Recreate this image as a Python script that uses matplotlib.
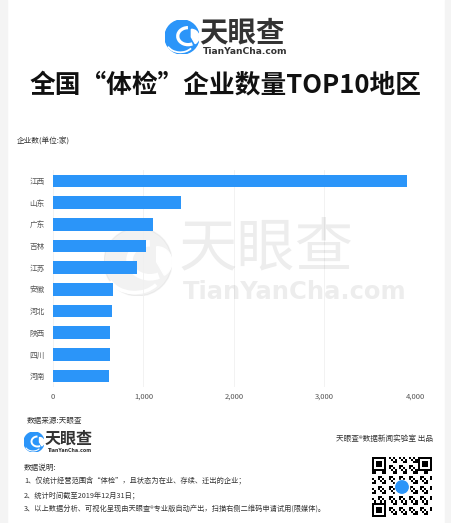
import numpy as np
import matplotlib
matplotlib.use("Agg")
import matplotlib.pyplot as plt
from matplotlib.patches import Circle, Rectangle, Arc, Wedge

plt.rcParams['font.family'] = ['Noto Sans CJK SC', 'DejaVu Sans']

regions = ['江西', '山东', '广东', '吉林', '江苏', '安徽', '河北', '陕西', '四川', '河南']
counts = [3914, 1413, 1107, 1033, 927, 666, 651, 629, 627, 621]
xticks = [0, 1000, 2000, 3000, 4000]
xtick_labels = ['0', '1,000', '2,000', '3,000', '4,000']

W, H = 452, 523
fig = plt.figure(figsize=(W / 100, H / 100), dpi=100)
fig.patch.set_facecolor('white')

def fx(x):
    return x / W

def fy(y):
    return 1 - y / H

# light side borders
fig.add_artist(Rectangle((0, 0), fx(7), 1, transform=fig.transFigure, color='#f4f4f4', zorder=0))
fig.add_artist(Rectangle((fx(445), 0), fx(7), 1, transform=fig.transFigure, color='#f4f4f4', zorder=0))

BLUE = '#2b95f9'

def draw_logo(ax_rect, alpha=1.0, color=BLUE):
    ax = fig.add_axes(ax_rect)
    ax.set_xlim(-1, 1)
    ax.set_ylim(-1, 1)
    ax.set_aspect('equal')
    ax.axis('off')
    ax.add_patch(Circle((0, 0), 1, color=color, alpha=alpha))
    ax.add_patch(Arc((0.35, 0.05), 1.2, 1.0, theta1=90, theta2=300, color='white', lw=2.2 * (ax_rect[2] / 0.07), alpha=1))
    ax.add_patch(Wedge((0.55, 0.0), 0.45, -60, 90, color='white'))
    ax.add_patch(Arc((-0.1, -0.3), 1.6, 1.2, theta1=200, theta2=330, color='white', lw=1.2 * (ax_rect[2] / 0.07)))
    return ax

# header logo
draw_logo([fx(165), fy(54), fx(34), 34 / H])
fig.text(fx(199), fy(33), '天眼查', fontsize=20.5, weight='bold', color='#333333', ha='left', va='center')
fig.text(fx(203), fy(51), 'TianYanCha.com', fontsize=6.6, weight='bold', color='#333333', ha='left', va='center',
         family=['DejaVu Sans'])

# title
fig.text(0.5, fy(85), '全国“体检”企业数量TOP10地区', fontsize=18.5, weight='bold', color='#111111',
         ha='center', va='center')

fig.text(fx(17), fy(142), '企业数(单位:家)', fontsize=5.5, color='#333333', ha='left', va='center')

# watermark
draw_logo([fx(104), fy(296), fx(68), 68 / H], alpha=0.12, color='#999999')
fig.text(fx(179), fy(249), '天眼查', fontsize=42, color='#000000', alpha=0.07, ha='left', va='center')
fig.text(fx(183), fy(292), 'TianYanCha.com', fontsize=17.5, color='#000000', alpha=0.07, ha='left', va='center',
         family=['DejaVu Sans'], weight='bold')

# main chart
ax = fig.add_axes([fx(53), fy(387), fx(415 - 53), 217 / H])
ax.set_facecolor('none')
y = np.arange(len(regions))
ax.barh(y, counts, height=0.58, color=BLUE, zorder=2)
ax.set_ylim(len(regions) - 0.5, -0.5)
ax.set_xlim(0, 4000)
ax.set_yticks(y)
ax.set_yticklabels(regions, fontsize=5.5, color='#555555')
ax.set_xticks(xticks)
ax.set_xticklabels(xtick_labels, fontsize=5.5, color='#555555')
ax.tick_params(length=0, pad=4)
ax.tick_params(axis='y', pad=6)
for s in ax.spines.values():
    s.set_visible(False)
ax.grid(axis='x', color='#f0f0f0', lw=0.6, zorder=0)

# footer
fig.text(fx(27), fy(421), '数据来源:天眼查', fontsize=5.5, color='#333333', ha='left', va='center')
draw_logo([fx(24), fy(452), fx(20), 20 / H])
fig.text(fx(45), fy(439), '天眼查', fontsize=11.5, weight='bold', color='#333333', ha='left', va='center')
fig.text(fx(47), fy(450), 'TianYanCha.com', fontsize=3.4, weight='bold', color='#333333', ha='left', va='center',
         family=['DejaVu Sans'])
fig.text(fx(433), fy(439), '天眼查®数据新闻实验室 出品', fontsize=5.5, color='#333333', ha='right', va='center')
fig.text(fx(24), fy(468), '数据说明:', fontsize=5.5, color='#333333', ha='left', va='center')
notes = ['1、仅统计经营范围含“体检”，且状态为在业、存续、迁出的企业；',
         '2、统计时间截至2019年12月31日；',
         '3、以上数据分析、可视化呈现由天眼查®专业版自动产出，扫描右侧二维码申请试用(限媒体)。']
for i, t in enumerate(notes):
    fig.text(fx(24), fy(481 + 14 * i), t, fontsize=5.2, color='#333333', ha='left', va='center')

# QR code (decorative)
qax = fig.add_axes([fx(372), fy(517), fx(60), 60 / H])
qax.axis('off')
n = 29
ii, jj = np.meshgrid(np.arange(n), np.arange(n))
grid = (((ii * 7 + jj * 13 + ii * jj) % 5) < 2).astype(float)
for (r0, c0) in [(0, 0), (0, n - 7), (n - 7, 0)]:
    grid[r0:r0 + 7, c0:c0 + 7] = 1
    grid[r0 + 1:r0 + 6, c0 + 1:c0 + 6] = 0
    grid[r0 + 2:r0 + 5, c0 + 2:c0 + 5] = 1
qax.imshow(1 - grid, cmap='gray', interpolation='nearest', extent=(0, n, n, 0))
qax.add_patch(Rectangle((11, 11), 7, 7, color='white'))
qax.add_patch(Circle((14.5, 14.5), 3.0, color=BLUE))
qax.set_xlim(0, n)
qax.set_ylim(n, 0)

fig.savefig('out.png', dpi=100, facecolor='white')
